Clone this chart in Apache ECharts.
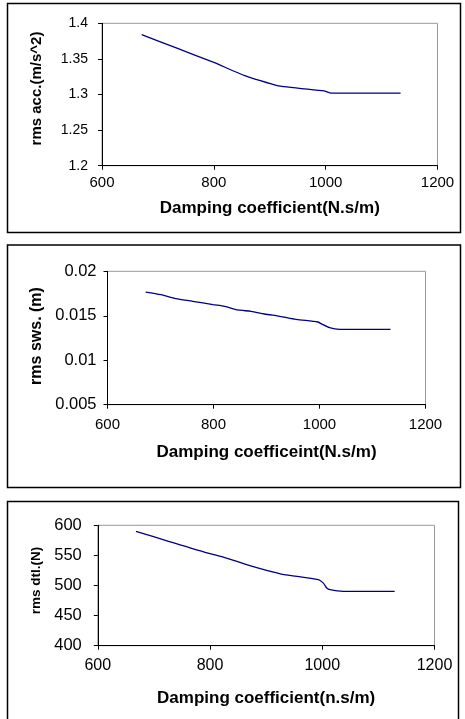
<!DOCTYPE html>
<html>
<head>
<meta charset="utf-8">
<script src="https://cdn.jsdelivr.net/npm/echarts@6/dist/echarts.min.js"></script>
<style>
html,body{margin:0;padding:0;background:#fff;}
#chart{width:465px;height:719px;}
</style>
</head>
<body>
<div id="chart"></div>
<script>
// Panel 1: rms acceleration
var accX = [671, 734, 800, 854, 913, 997, 1010, 1134];
var accY = [1.384, 1.365, 1.345, 1.327, 1.3125, 1.305, 1.302, 1.302];
// Panel 2: rms suspension working space
var swsX = [672, 701, 729, 761, 799, 821, 846, 871, 896, 925, 956, 997, 1003, 1019, 1038, 1134];
var swsY = [0.01767, 0.01737, 0.01692, 0.01663, 0.01625, 0.01606, 0.01565, 0.0155, 0.0152, 0.01494, 0.0146, 0.0143, 0.01411, 0.01366, 0.01348, 0.01348];
// Panel 3: rms dynamic tyre load
var dtlX = [668, 726, 791, 821, 874, 927, 993, 1002, 1008, 1014, 1037, 1129];
var dtlY = [590, 573.4, 555.1, 548, 532, 519, 509.7, 504, 495.8, 493, 490.3, 490.3];

var xTicksMin = 600, xTicksMax = 1200, xTickStep = 200;
var titles = {
  x: ['Damping coefficient(N.s/m)', 'Damping coefficeint(N.s/m)', 'Damping coefficient(n.s/m)'],
  y: ['rms acc.(m/s^2)', 'rms sws. (m)', 'rms dtl.(N)']
};
var yRanges = [[1.2, 1.4, 0.05], [0.005, 0.02, 0.005], [400, 600, 50]];

function pairs(xs, ys) { return xs.map(function (x, i) { return [x, ys[i]]; }); }

var FONT = 'Liberation Sans, Arial, sans-serif';
var grids = [
  { left: 102, top: 23.3, width: 335.5, height: 142.4 },
  { left: 107.5, top: 271.3, width: 318, height: 133.4 },
  { left: 97.8, top: 525.3, width: 336.7, height: 120.4 }
];
var xLblFont = [15, 15, 16];
var yLblFont = [14, 16.5, 16.5];
var xLblMargin = [10, 13, 12];
var yLblMargin = [14, 11, 16];
var xNameGap = [34, 39, 44];
var yNameGap = [58, 62, 55];
var yNameSize = [15, 16, 13.5];
var yNamePad = [[0, 0, 0, 12], [0, 0, 0, 4], [0, 0, 0, 10]];

var option = {
  animation: false,
  backgroundColor: '#fff',
  grid: grids.map(function (g) {
    return Object.assign({ show: true, borderColor: '#999', borderWidth: 1, backgroundColor: 'transparent' }, g);
  }),
  xAxis: [0, 1, 2].map(function (i) {
    return {
      type: 'value', gridIndex: i, min: xTicksMin, max: xTicksMax, interval: xTickStep,
      name: titles.x[i], nameLocation: 'middle', nameGap: xNameGap[i],
      nameTextStyle: { fontFamily: FONT, fontWeight: 'bold', fontSize: 17, color: '#000' },
      axisLine: { show: true, onZero: false, lineStyle: { color: '#000', width: 1 } },
      axisTick: { show: true, inside: false, length: 4, lineStyle: { color: '#000' } },
      axisLabel: { fontFamily: FONT, fontSize: xLblFont[i], color: '#000', margin: xLblMargin[i],
        formatter: function (v) { return String(v); } },
      splitLine: { show: false }
    };
  }),
  yAxis: [0, 1, 2].map(function (i) {
    return {
      type: 'value', gridIndex: i, min: yRanges[i][0], max: yRanges[i][1], interval: yRanges[i][2],
      name: titles.y[i], nameLocation: 'middle', nameGap: yNameGap[i], nameRotate: 90,
      nameTextStyle: { fontFamily: FONT, fontWeight: 'bold', fontSize: yNameSize[i], color: '#000', padding: yNamePad[i] },
      axisLine: { show: true, onZero: false, lineStyle: { color: '#000', width: 1 } },
      axisTick: { show: true, inside: false, length: 4, lineStyle: { color: '#000' } },
      axisLabel: { fontFamily: FONT, fontSize: yLblFont[i], color: '#000', margin: yLblMargin[i],
        formatter: function (v) { return String(+v.toFixed(4)); } },
      splitLine: { show: false }
    };
  }),
  series: [
    { type: 'line', xAxisIndex: 0, yAxisIndex: 0, data: pairs(accX, accY), showSymbol: false, smooth: 0.15,
      lineStyle: { color: '#000080', width: 1.3 } },
    { type: 'line', xAxisIndex: 1, yAxisIndex: 1, data: pairs(swsX, swsY), showSymbol: false, smooth: 0.25,
      lineStyle: { color: '#000080', width: 1.3 } },
    { type: 'line', xAxisIndex: 2, yAxisIndex: 2, data: pairs(dtlX, dtlY), showSymbol: false, smooth: 0.25,
      lineStyle: { color: '#000080', width: 1.3 } }
  ],
  graphic: [
    { type: 'rect', shape: { x: 7.5, y: 3.5, width: 453, height: 229 }, style: { fill: null, stroke: '#000', lineWidth: 1.5 }, silent: true },
    { type: 'rect', shape: { x: 7.5, y: 245, width: 453, height: 242.5 }, style: { fill: null, stroke: '#000', lineWidth: 1.5 }, silent: true },
    { type: 'rect', shape: { x: 7.5, y: 501.5, width: 451, height: 240 }, style: { fill: null, stroke: '#000', lineWidth: 1.5 }, silent: true }
  ]
};

var chart = echarts.init(document.getElementById('chart'), null, { renderer: 'canvas' });
chart.setOption(option);
</script>
</body>
</html>
